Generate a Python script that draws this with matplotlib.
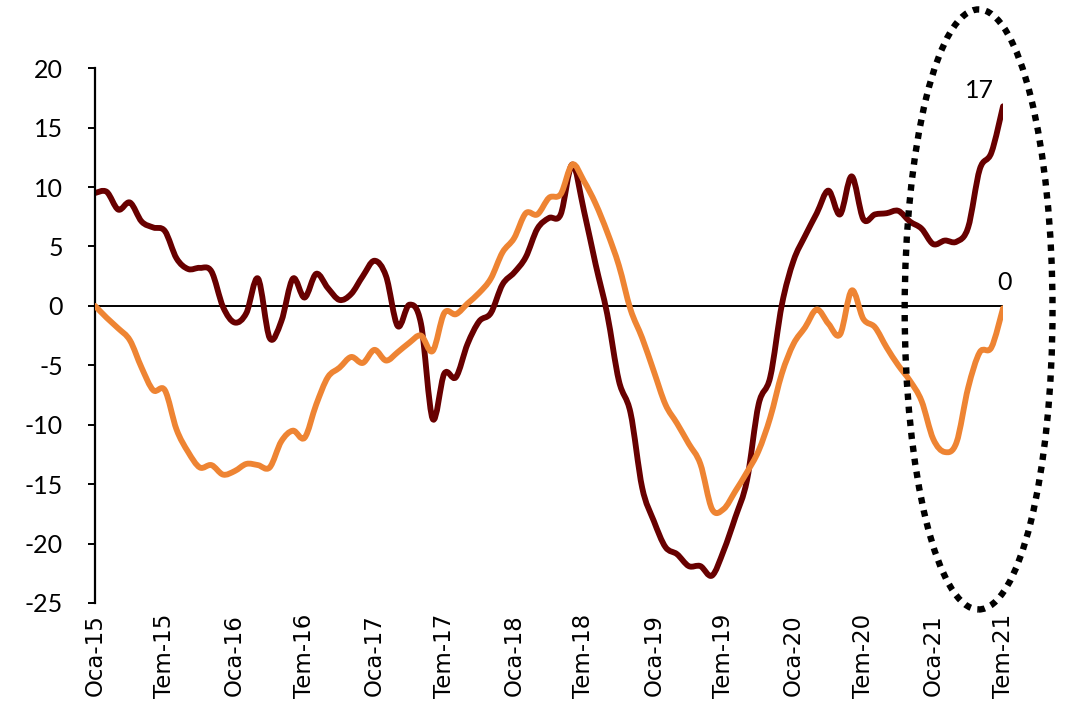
import matplotlib
matplotlib.use("Agg")
import matplotlib.pyplot as plt
from matplotlib.patches import Ellipse, PathPatch
from matplotlib.path import Path
import numpy as np

# ------------------------------------------------------------
# Data (monthly, Oca-15 .. Tem-21)
# ------------------------------------------------------------
years = ["15", "16", "17", "18", "19", "20", "21"]
half_year_months = ["Oca", "Tem"]

dark_series = [9.5, 9.6, 8.1, 8.7, 7.1, 6.6, 6.3, 4.0, 3.1, 3.2, 2.9, -0.1,
               -1.4, -0.6, 2.3, -2.7, -1.3, 2.3, 0.7, 2.7, 1.5, 0.5, 1.0, 2.5,
               3.8, 2.5, -1.7, 0.1, -1.5, -9.5, -5.7, -6.0, -3.2, -1.3, -0.6, 1.8,
               2.8, 4.1, 6.5, 7.4, 7.7, 11.9, 8.0, 3.5, -0.7, -6.3, -9.0, -15.3,
               -18.1, -20.3, -20.9, -21.9, -21.9, -22.7, -20.6, -17.8, -14.7, -8.3, -6.0, 0.1,
               3.8, 5.9, 7.8, 9.7, 7.7, 10.9, 7.3, 7.7, 7.8, 8.0, 7.1, 6.5,
               5.2, 5.5, 5.4, 6.6, 11.5, 12.9, 16.8]

orange_series = [0.0, -1.0, -1.9, -2.9, -5.2, -7.1, -7.1, -10.4, -12.3, -13.6, -13.4, -14.2,
                 -13.9, -13.3, -13.4, -13.6, -11.4, -10.5, -11.1, -8.3, -6.0, -5.2, -4.3, -4.8,
                 -3.7, -4.6, -3.9, -3.1, -2.5, -3.8, -0.6, -0.7, 0.2, 1.1, 2.3, 4.5,
                 5.7, 7.8, 7.7, 9.1, 9.4, 11.9, 10.5, 8.6, 6.2, 3.4, -0.3, -2.7,
                 -5.5, -8.3, -9.9, -11.6, -13.3, -17.1, -17.1, -15.6, -14.0, -12.2, -9.4, -5.7,
                 -3.2, -1.8, -0.3, -1.5, -2.4, 1.3, -1.1, -1.8, -3.5, -5.0, -6.3, -8.0,
                 -11.2, -12.3, -11.5, -6.9, -3.9, -3.5, -0.2]

tick_labels = [f"{m}-{y}" for y in years for m in half_year_months]

yticks = [20, 15, 10, 5, 0, -5, -10, -15, -20, -25]


def smooth_path(xs, ys):
    # Excel-style smoothed line: cubic bezier segments through the data points
    pts = np.column_stack([xs, ys]).astype(float)
    verts = [pts[0]]
    codes = [Path.MOVETO]
    n = len(pts)
    for i in range(n - 1):
        p0 = pts[max(i - 1, 0)]
        p1 = pts[i]
        p2 = pts[i + 1]
        p3 = pts[min(i + 2, n - 1)]
        verts += [p1 + (p2 - p0) / 6, p2 - (p3 - p1) / 6, p2]
        codes += [Path.CURVE4] * 3
    return Path(verts, codes)


# ------------------------------------------------------------
# Plot
# ------------------------------------------------------------
x = np.arange(len(dark_series))
fig = plt.figure(figsize=(10.69, 7.11), dpi=100)
ax = fig.add_axes([0.0889, 0.152, 0.8494, 0.752])

ax.axhline(0, color="black", lw=1.4, zorder=1)
for series, color, z in [(dark_series, "#680000", 2), (orange_series, "#EE8433", 3)]:
    patch = PathPatch(smooth_path(x, series), fill=False, edgecolor=color,
                      lw=4.2, joinstyle="round", capstyle="round", zorder=z)
    ax.add_patch(patch)

# dotted ellipse around the latest months
ell = Ellipse((75.9, -0.3), width=12.7, height=50.5, fill=False,
              edgecolor="black", lw=4.6, linestyle=(0, (1, 1.05)),
              clip_on=False, zorder=5)
ax.add_patch(ell)

# end labels
ax.annotate(f"{dark_series[-1]:.0f}", xy=(x[-1], dark_series[-1]),
            xytext=(-24, 16), textcoords="offset pixels", ha="center",
            va="center", fontsize=18, family="Lato")
ax.annotate(f"{abs(orange_series[-1]):.0f}", xy=(x[-1], orange_series[-1]),
            xytext=(1, 26), textcoords="offset pixels", ha="center",
            va="center", fontsize=18, family="Lato")

ax.set_xlim(0, len(dark_series) - 1)
ax.set_ylim(-25, 20)
ax.set_yticks(yticks)
ax.set_yticklabels([str(v) for v in yticks], fontsize=18, family="Lato")
ax.set_xticks(x[::6])
ax.set_xticklabels(tick_labels, rotation=90, fontsize=16.5, family="DejaVu Sans")

for side in ["top", "right", "bottom"]:
    ax.spines[side].set_visible(False)
ax.spines["left"].set_linewidth(1.6)
ax.tick_params(axis="y", length=5, width=1.4, pad=18)
ax.tick_params(axis="x", length=0, pad=8)

fig.savefig("out.png", dpi=100)
